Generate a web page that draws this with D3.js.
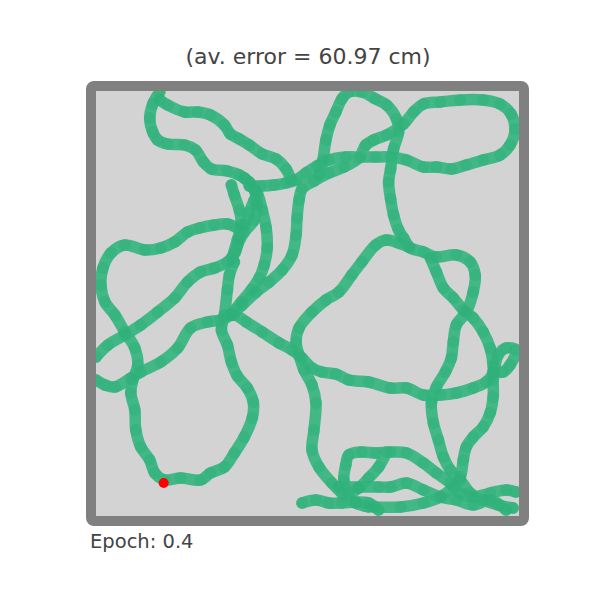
<!DOCTYPE html>
<html>
<head>
<meta charset="utf-8">
<script src="https://cdn.jsdelivr.net/npm/d3@7"></script>
<style>
  body { margin: 0; background: #fff; }
  text { font-family: "DejaVu Sans", sans-serif; fill: #444; }
</style>
</head>
<body>
<svg id="chart" width="600" height="600"></svg>
<script>
// arena in cm (x to the right, y downward), 0..425
const arenaSize = 425;
const titleText = "(av. error = 60.97 cm)";
const epochText = "Epoch: 0.4";

// trajectory pieces, [x, y] in cm
const track1 = [[64,1],[57,13],[54,27],[57,41],[62,49],[72,53],[89,54],[100,59],[108,71],[116,78],[132,80],[144,84],[154,91],[162,102],[167,119],[171,137],[172,157],[169,174],[164,187],[156,199],[146,211],[136,223]];
const track2 = [[64,9],[72,14],[89,21],[102,21],[115,24],[129,34],[135,43],[144,48],[154,54],[167,63],[181,68],[191,78],[196,89]];
const track3 = [[154,95],[166,95],[179,94],[191,92],[201,89],[211,82],[222,75],[234,69],[251,66],[266,66],[281,66],[296,66],[312,69],[329,76],[342,76],[357,78],[372,74],[389,69],[406,64],[416,54],[421,38],[417,23],[406,13],[389,9],[366,9],[346,11],[329,13],[319,21],[309,33],[292,44],[279,49],[271,54],[264,67],[249,76],[234,82],[219,90],[207,98],[204,109],[202,127],[201,144],[197,164],[187,179],[174,191],[161,201],[147,214],[136,224]];
const track4 = [[224,84],[228,69],[231,49],[235,34],[241,21],[247,8],[254,1],[267,1],[281,8],[292,14],[302,28],[304,41],[299,58],[296,78],[294,91],[296,108],[299,124],[304,139],[309,147],[316,157],[329,161],[342,166],[362,164],[376,171],[381,184],[379,201],[372,221],[362,234],[359,251],[357,267],[351,281],[342,296],[337,312],[339,332],[344,349],[349,366],[356,379],[366,389],[376,402],[389,409],[404,414],[419,417]];
const track5 = [[142,137],[132,133],[119,134],[104,137],[92,141],[79,151],[65,157],[49,159],[29,154],[15,162],[7,177],[5,194],[9,211],[19,224],[29,241],[39,257],[42,274],[37,289],[35,302],[39,319],[40,339],[45,356],[54,369],[59,382],[69,389],[85,387],[105,389],[115,382],[129,376],[139,362],[149,346],[157,327],[158,311],[152,297],[142,285],[136,271],[132,254],[126,239],[129,224],[132,199],[134,184],[139,171]];
const track6 = [[0,266],[12,254],[29,244],[45,234],[62,221],[79,207],[92,191],[105,181],[119,177],[132,171],[140,161],[144,147],[149,134],[154,121],[159,109]];
const track7 = [[0,289],[9,294],[19,296],[35,287],[45,281],[65,271],[82,257],[95,237],[112,231],[125,229],[139,224],[151,231],[167,241],[184,252],[197,259],[207,267],[217,277],[227,281],[241,283],[254,289],[274,291],[296,297],[312,297],[329,304],[346,304],[362,302],[379,297],[392,291],[399,282],[404,264],[412,257],[422,259],[416,274],[409,281],[399,281]];
const track8 = [[314,156],[304,152],[292,149],[281,154],[267,171],[257,184],[244,201],[231,209],[217,221],[204,237],[201,251],[204,264],[209,279],[217,294],[221,312],[219,339],[217,359],[224,376],[237,392],[247,402],[261,412],[274,416]];
const track9 = [[336,167],[342,181],[349,197],[359,207],[369,219],[379,227],[389,241],[396,257],[399,274],[399,289],[399,306],[396,322],[389,336],[379,346],[372,356],[369,369],[366,386],[359,396],[346,406],[329,412],[306,416],[279,416]];
const track10 = [[207,412],[221,409],[234,412],[247,412],[261,411],[274,412],[284,419]];
const track11 = [[292,361],[284,376],[274,387],[264,397],[254,402],[249,389],[251,374],[254,364],[267,361],[281,362],[296,361],[312,362],[329,372],[342,382],[356,392],[366,402],[379,406],[396,402],[412,399],[422,401]];
const track12 = [[244,396],[264,396],[284,396],[296,396],[312,392],[329,399],[346,406],[362,409],[379,414],[396,409],[412,419]];
const track13 = [[149,87],[159,99],[162,114],[159,129],[149,141],[142,154],[137,167],[142,149],[146,134],[144,119],[139,104],[136,94]];
const tracks = [track1, track2, track3, track4, track5, track6, track7, track8, track9, track10, track11, track12, track13];

// current estimated position
const current = [68, 392];

const svg = d3.select("#chart");

const x = d3.scaleLinear().domain([0, arenaSize]).range([96, 519]);
const y = d3.scaleLinear().domain([0, arenaSize]).range([91, 516]);

svg.append("defs").append("clipPath").attr("id", "arena")
    .append("rect")
    .attr("x", x(0)).attr("y", y(0))
    .attr("width", x(arenaSize) - x(0)).attr("height", y(arenaSize) - y(0));

svg.append("rect")
    .attr("x", x(0)).attr("y", y(0))
    .attr("width", x(arenaSize) - x(0)).attr("height", y(arenaSize) - y(0))
    .attr("fill", "#d3d3d3");

const g = svg.append("g").attr("clip-path", "url(#arena)");

const line = d3.line()
    .x(d => x(d[0]))
    .y(d => y(d[1]))
    .curve(d3.curveCatmullRom);

g.selectAll("path.track")
    .data(tracks)
    .enter()
    .append("path")
    .attr("class", "track")
    .attr("d", line)
    .attr("fill", "none")
    .attr("stroke", "#35b57f")
    .attr("stroke-opacity", 0.92)
    .attr("stroke-width", 11.5)
    .attr("stroke-linecap", "round")
    .attr("stroke-linejoin", "round");

g.selectAll("circle.pt")
    .data(tracks.flat())
    .enter()
    .append("circle")
    .attr("class", "pt")
    .attr("cx", d => x(d[0]))
    .attr("cy", d => y(d[1]))
    .attr("r", 6)
    .attr("fill", "#2eb07a")
    .attr("fill-opacity", 0.5);

g.append("circle")
    .attr("cx", x(current[0]))
    .attr("cy", y(current[1]))
    .attr("r", 5)
    .attr("fill", "red");

// arena wall
svg.append("rect")
    .attr("x", x(0) - 5).attr("y", y(0) - 5)
    .attr("width", x(arenaSize) - x(0) + 10).attr("height", y(arenaSize) - y(0) + 10)
    .attr("rx", 3)
    .attr("fill", "none")
    .attr("stroke", "#808080")
    .attr("stroke-width", 10);

svg.append("text")
    .attr("x", 308).attr("y", 64)
    .attr("text-anchor", "middle")
    .style("font-size", "22px")
    .text(titleText);

svg.append("text")
    .attr("x", 90).attr("y", 548)
    .style("font-size", "19.5px")
    .text(epochText);
</script>
</body>
</html>
